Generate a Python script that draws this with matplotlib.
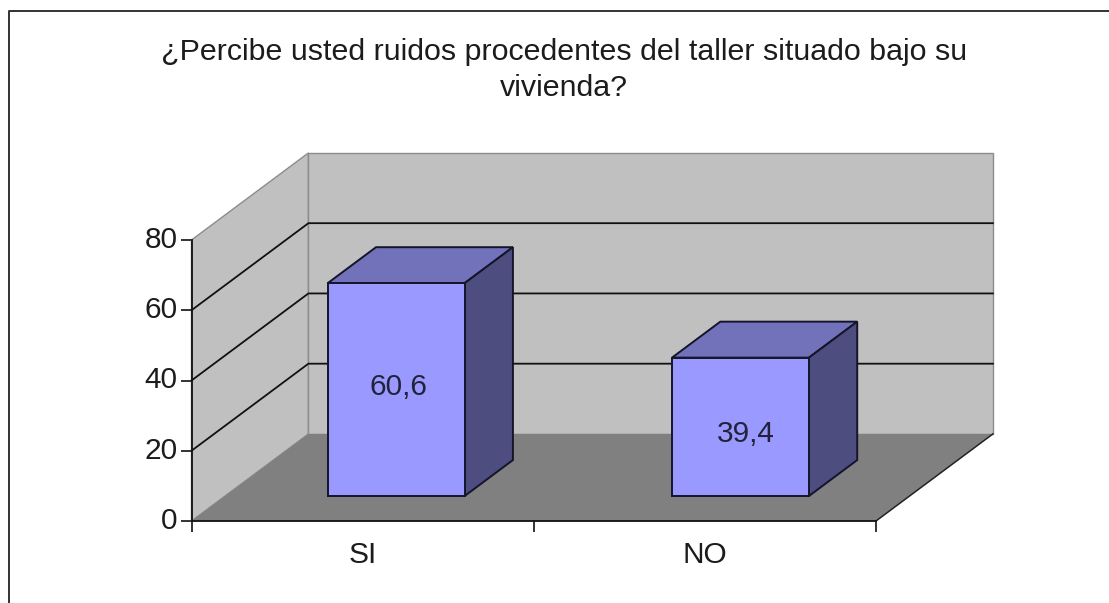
import matplotlib
matplotlib.use('Agg')
import matplotlib.pyplot as plt
from matplotlib.lines import Line2D
from matplotlib.patches import Polygon

plt.rcParams['font.family'] = ['Liberation Sans', 'DejaVu Sans']

title = '¿Percibe usted ruidos procedentes del taller situado bajo su\nvivienda?'
categories = ['SI', 'NO']
values = [60.6, 39.4]
value_labels = ['60,6', '39,4']
y_ticks = [0, 20, 40, 60, 80]

W, H = 1109, 603
TEXT = '#1c1c1c'
DEPTH_X = 117 / 342.5  # depth of the floor, in x units
DEPTH_Y = 87 / 3.51    # depth of the floor, in y units


def pr(x, y, d=0.0):
    """fake 3d: shift a point backwards by depth d (0 front, 1 back)"""
    return (x + d * DEPTH_X, y + d * DEPTH_Y)


def face(ax, pts, color, edge, lw=1.0, z=2):
    ax.add_patch(Polygon(pts, closed=True, facecolor=color, edgecolor=edge,
                         linewidth=lw, clip_on=False, zorder=z, joinstyle='miter'))


fig = plt.figure(figsize=(W / 100, H / 100), dpi=100, facecolor='white')
ax = fig.add_axes([191.5 / W, (H - 521) / H, 684.5 / W, 281 / H])
ax.set_xlim(0, 2)
ax.set_ylim(0, 80)
ax.patch.set_visible(False)
for s in ['top', 'right']:
    ax.spines[s].set_visible(False)
for s in ['left', 'bottom']:
    ax.spines[s].set_linewidth(1.3)
    ax.spines[s].set_color('#111111')
    ax.spines[s].set_zorder(6)

# walls and floor
ymax = y_ticks[-1]
face(ax, [pr(0, 0), pr(0, ymax), pr(0, ymax, 1), pr(0, 0, 1)], '#c0c0c0', '#8c8c8c', 1.0)
face(ax, [pr(0, 0, 1), pr(0, ymax, 1), pr(2, ymax, 1), pr(2, 0, 1)], '#c0c0c0', '#8c8c8c', 1.0)
face(ax, [pr(0, 0), pr(2, 0), pr(2, 0, 1), pr(0, 0, 1)], '#808080', 'none', 0)
ax.plot(*zip(pr(2, 0), pr(2, 0, 1)), color='#222222', lw=1.1, clip_on=False, zorder=3)

# grid lines run along the side wall and the back wall
for t in y_ticks[1:-1]:
    xs, ys = zip(pr(0, t), pr(0, t, 1), pr(2, t, 1))
    ax.plot(xs, ys, color='#111111', lw=1.3, clip_on=False, zorder=3)

# bars
bar_w = 0.40
d0, d1 = 0.287, 0.70
edge = '#14142a'
bar_shift = [0.0, 0.006]
label_nudge = [(2, 2), (5, -5)]
for i, v in enumerate(values):
    x0 = i + 0.5 - bar_w / 2 + bar_shift[i]
    x1 = i + 0.5 + bar_w / 2 + bar_shift[i]
    face(ax, [pr(x0, v, d0), pr(x1, v, d0), pr(x1, v, d1), pr(x0, v, d1)], '#7272ba', edge, 1.4, 4)
    face(ax, [pr(x1, 0, d0), pr(x1, v, d0), pr(x1, v, d1), pr(x1, 0, d1)], '#4d4d80', edge, 1.4, 4)
    face(ax, [pr(x0, 0, d0), pr(x1, 0, d0), pr(x1, v, d0), pr(x0, v, d0)], '#9999ff', edge, 1.4, 5)
    cx, cy = pr(i + 0.5, v / 2, d0)
    ax.annotate(value_labels[i], (cx, cy), xytext=label_nudge[i], textcoords='offset points',
                ha='center', va='center', fontsize=21.5, color='#22223a', zorder=7,
                annotation_clip=False)

ax.set_yticks(y_ticks)
ax.set_xticks([0, 1, 2])
ax.set_xticklabels([])
ax.set_xticks([0.5, 1.5], minor=True)
ax.set_xticklabels(categories, minor=True, fontsize=21.5, color=TEXT)
ax.tick_params(axis='x', which='minor', length=0, pad=14.5)
ax.tick_params(axis='x', which='major', length=8, width=1.2, color='#111111')
ax.tick_params(axis='y', length=8, width=1.2, color='#111111', labelsize=21.5,
               labelcolor=TEXT, pad=2)
for lab in ax.get_yticklabels():
    lab.set_verticalalignment('center')

fig.text(564 / W, 1 - 38 / H, title, ha='center', va='top', fontsize=21.9, color=TEXT,
         linespacing=1.38)

# chart frame, cut off by the edge of the page
fig.add_artist(Line2D([9 / W, 9 / W, 1], [0, 1 - 10.5 / H, 1 - 10.5 / H], color='#333333', lw=1.4))

fig.savefig('out.png', dpi=100)
